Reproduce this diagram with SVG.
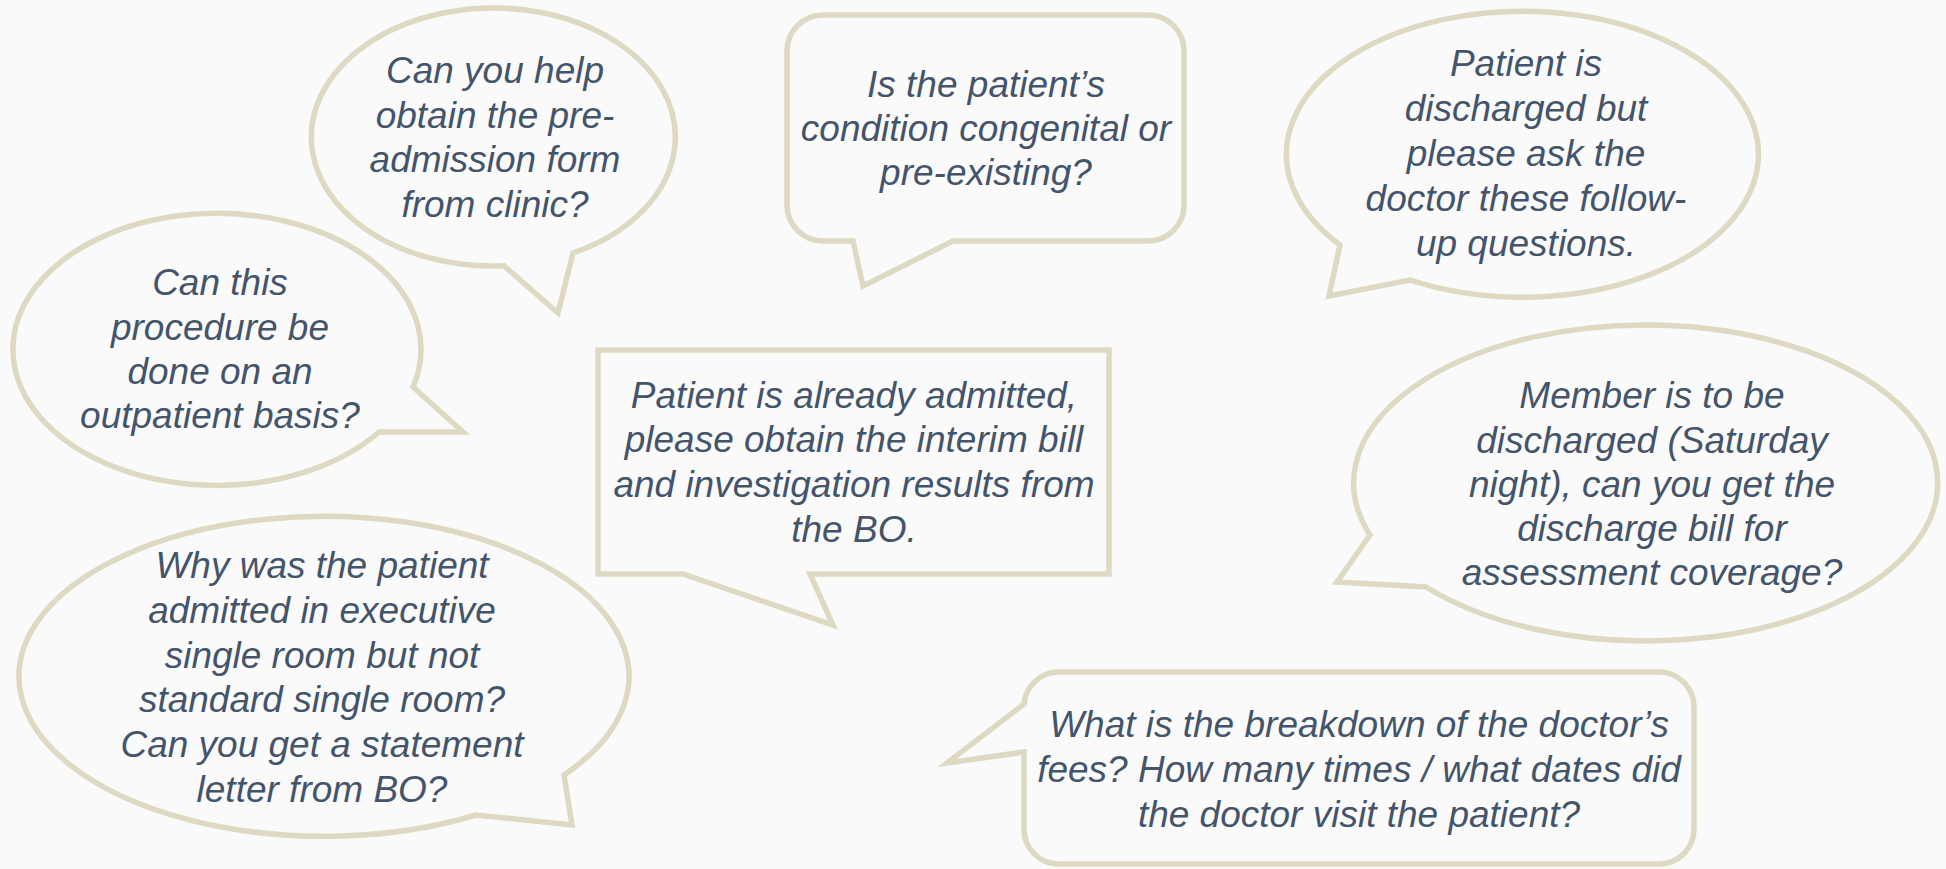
<svg xmlns="http://www.w3.org/2000/svg" width="1946" height="869" viewBox="0 0 1946 869">
<style>
.b{fill:#FAFAFA;stroke:#DDD9C3;stroke-width:5.5;stroke-linejoin:miter}
.t{font-family:"Liberation Sans",Arial,sans-serif;font-style:italic;font-size:37px;fill:#44546A;text-anchor:middle}
</style>
<rect width="1946" height="869" fill="#FAFAFA"/>
<g id="connectors"/>
<g id="bubble-preadmission">
<path class="b" d="M504,265.8 L558,313 L573,253 A182 129 0 1 0 504,265.8 Z"/>
<text class="t"><tspan x="495" y="83">Can you help</tspan><tspan x="495" y="128">obtain the pre-</tspan><tspan x="495" y="172">admission form</tspan><tspan x="495" y="217">from clinic?</tspan></text>
</g>
<g id="bubble-outpatient">
<path class="b" d="M413,387 L463,432 L379,432 A204 136 0 1 1 413,387 Z"/>
<text class="t"><tspan x="220" y="295">Can this</tspan><tspan x="220" y="340">procedure be</tspan><tspan x="220" y="384">done on an</tspan><tspan x="220" y="428">outpatient basis?</tspan></text>
</g>
<g id="bubble-congenital">
<path class="b" d="M823,15 H1148 A36 36 0 0 1 1184,51 V205 A36 36 0 0 1 1148,241 H953 L863,286 L853,241 H823 A36 36 0 0 1 787,205 V51 A36 36 0 0 1 823,15 Z"/>
<text class="t"><tspan x="986" y="97">Is the patient’s</tspan><tspan x="986" y="141">condition congenital or</tspan><tspan x="986" y="185">pre-existing?</tspan></text>
</g>
<g id="bubble-followup">
<path class="b" d="M1340,245 L1329,296 L1410,280 A236 143 0 1 0 1340,245 Z"/>
<text class="t"><tspan x="1526" y="76">Patient is</tspan><tspan x="1526" y="121">discharged but</tspan><tspan x="1526" y="166">please ask the</tspan><tspan x="1526" y="211">doctor these follow-</tspan><tspan x="1526" y="256">up questions.</tspan></text>
</g>
<g id="bubble-admitted">
<path class="b" d="M598,350 H1109 V574 H810 L833,625 L683,574 H598 Z"/>
<text class="t"><tspan x="854" y="408">Patient is already admitted,</tspan><tspan x="854" y="452">please obtain the interim bill</tspan><tspan x="854" y="497">and investigation results from</tspan><tspan x="854" y="542">the BO.</tspan></text>
</g>
<g id="bubble-discharge-bill">
<path class="b" d="M1370,535 L1337,582 L1426,587 A292 158 0 1 0 1370,535 Z"/>
<text class="t"><tspan x="1652" y="408">Member is to be</tspan><tspan x="1652" y="453">discharged (Saturday</tspan><tspan x="1652" y="497">night), can you get the</tspan><tspan x="1652" y="541">discharge bill for</tspan><tspan x="1652" y="585">assessment coverage?</tspan></text>
</g>
<g id="bubble-room">
<path class="b" d="M564,775 L572,825 L476,815 A305 160 0 1 1 564,775 Z"/>
<text class="t"><tspan x="322" y="578">Why was the patient</tspan><tspan x="322" y="623">admitted in executive</tspan><tspan x="322" y="668">single room but not</tspan><tspan x="322" y="712">standard single room?</tspan><tspan x="322" y="757">Can you get a statement</tspan><tspan x="322" y="802">letter from BO?</tspan></text>
</g>
<g id="bubble-doctor-fees">
<path class="b" d="M1059,672 H1659 A35 35 0 0 1 1694,707 V829 A35 35 0 0 1 1659,864 H1059 A35 35 0 0 1 1024,829 V752 L947,763 L1024,704 A35 35 0 0 1 1059,672 Z"/>
<text class="t"><tspan x="1359" y="737">What is the breakdown of the doctor’s</tspan><tspan x="1359" y="782">fees? How many times / what dates did</tspan><tspan x="1359" y="827">the doctor visit the patient?</tspan></text>
</g>
</svg>
